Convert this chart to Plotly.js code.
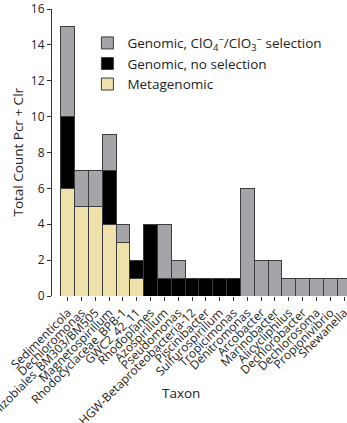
<!DOCTYPE html>
<html>
<head>
<meta charset="utf-8">
<script src="https://cdn.plot.ly/plotly-3.0.1.min.js"></script>
<style>html,body{margin:0;padding:0;overflow:hidden;background:#fff}#chart{width:347px;height:423px}</style>
</head>
<body>
<div id="chart"></div>
<script>
const taxa = ["Sedimenticola","Dechloromonas","Rhizobiales_BM303/BM505","Magnetospirillum","Rhodocyclaceae_BPB-1","GWC2_42_11","Rhodoplanes","Azospirillum","Pseudomonas","HGW-Betaproteobacteria-12","Piscinibacter","Sulfurospirillum","Tropicimonas","Denitromonas","Arcobacter","Marinobacter","Alicycliphilus","Dechlorobacter","Dechlorosoma","Propionivibrio","Shewanella"];
const metagenomic   = [6,5,5,4,3,1,0,0,0,0,0,0,0,0,0,0,0,0,0,0,0];
const genomicNoSel  = [4,0,0,3,0,1,4,1,1,1,1,1,1,0,0,0,0,0,0,0,0];
const genomicSel    = [5,2,2,2,1,0,0,3,1,0,0,0,0,6,2,2,1,1,1,1,1];
const yTicks = [0,2,4,6,8,10,12,14,16];

const nz = a => a.map(v => v === 0 ? null : v);
const font = "Open Sans, DejaVu Sans, sans-serif";
const line = {color:"#3c3c3c", width:1};

const traces = [
  {type:"bar", name:"Metagenomic", x:taxa, y:nz(metagenomic), marker:{color:"#EFE1AA", line:line}},
  {type:"bar", name:"Genomic, no selection", x:taxa, y:nz(genomicNoSel), marker:{color:"#000000", line:line}},
  {type:"bar", name:"Genomic, ClO<sub>4</sub><sup>−</sup>/ClO<sub>3</sub><sup>−</sup> selection", x:taxa, y:nz(genomicSel), marker:{color:"#A4A4A9", line:line}}
];

const layout = {
  width:347, height:423,
  margin:{l:52, r:0, t:9, b:127, pad:0},
  barmode:"stack", bargap:0,
  paper_bgcolor:"#fff", plot_bgcolor:"#fff",
  font:{family:font, color:"#222", size:12},
  showlegend:true,
  legend:{x:0.12, xanchor:"left", y:0.935, yanchor:"top", traceorder:"reversed",
          font:{family:font, size:13.5, color:"#222"}, bgcolor:"rgba(0,0,0,0)", tracegroupgap:0},
  xaxis:{type:"category", range:[-1.13, 20.21], showline:false, showgrid:false, zeroline:false,
         tickmode:"array", tickvals:taxa, ticktext:taxa,
         ticks:"outside", ticklen:4, tickcolor:"#333", tickangle:-45,
         tickfont:{family:font, size:12, color:"#222"}, automargin:false, fixedrange:true},
  yaxis:{range:[0,16], tickvals:yTicks, showline:true, linecolor:"#333", linewidth:1,
         showgrid:false, zeroline:false, ticks:"outside", ticklen:4, tickcolor:"#333",
         tickfont:{family:font, size:12, color:"#222"}, automargin:false, fixedrange:true},
  annotations:[
    {text:"Total Count Pcr + Clr", xref:"paper", yref:"paper", x:0, xshift:-35, y:0.5, textangle:-90,
     showarrow:false, xanchor:"center", yanchor:"middle", font:{family:font, size:13.5, color:"#222"}},
    {text:"Taxon", xref:"paper", yref:"paper", x:0, xshift:129, y:0, yshift:-97,
     showarrow:false, xanchor:"center", yanchor:"middle", font:{family:font, size:13.5, color:"#222"}}
  ]
};

Plotly.newPlot("chart", traces, layout, {displayModeBar:false, staticPlot:true});
</script>
</body>
</html>
